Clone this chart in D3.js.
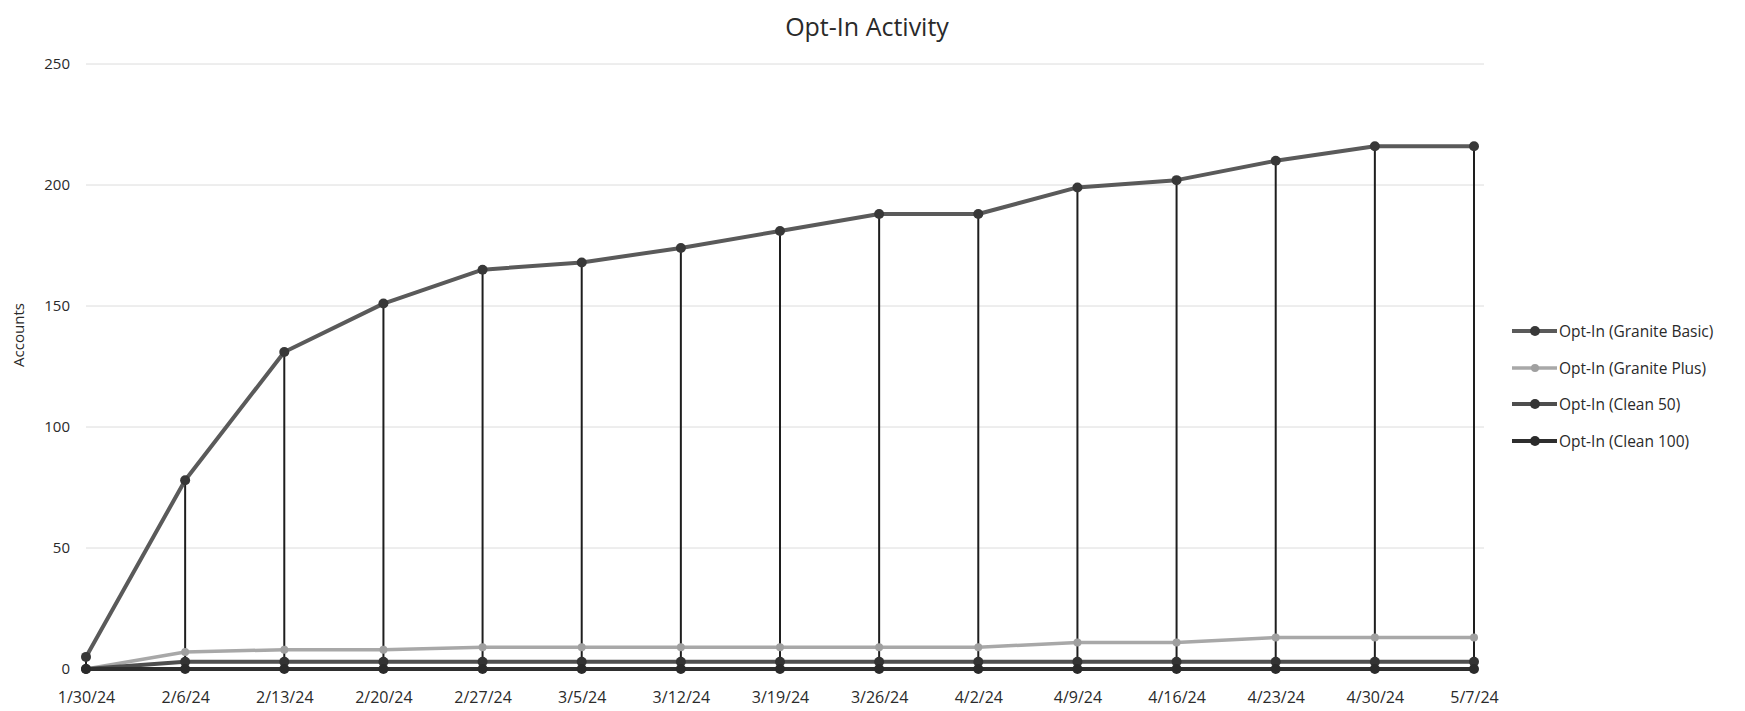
<!DOCTYPE html>
<html>
<head>
<meta charset="utf-8">
<script src="https://cdn.jsdelivr.net/npm/d3@7"></script>
<style>
  html, body { margin: 0; padding: 0; background: #fff; }
  svg { display: block; }
  text { font-family: "Open Sans", sans-serif; }
</style>
</head>
<body>
<svg id="chart" width="1745" height="711"></svg>
<script>
// ---- Data ----
const categories = ["1/30/24","2/6/24","2/13/24","2/20/24","2/27/24","3/5/24","3/12/24","3/19/24","3/26/24","4/2/24","4/9/24","4/16/24","4/23/24","4/30/24","5/7/24"];
const graniteBasic = [5, 78, 131, 151, 165, 168, 174, 181, 188, 188, 199, 202, 210, 216, 216];
const granitePlus  = [0, 7, 8, 8, 9, 9, 9, 9, 9, 9, 11, 11, 13, 13, 13];
const clean50      = [0, 3, 3, 3, 3, 3, 3, 3, 3, 3, 3, 3, 3, 3, 3];
const clean100     = [0, 0, 0, 0, 0, 0, 0, 0, 0, 0, 0, 0, 0, 0, 0];
const yTicks = [0, 50, 100, 150, 200, 250];
const seriesNames = ["Opt-In (Granite Basic)", "Opt-In (Granite Plus)", "Opt-In (Clean 50)", "Opt-In (Clean 100)"];

const series = [
  { name: seriesNames[0], values: graniteBasic, line: "#5a5a5a", marker: "#383838", width: 4, r: 5 },
  { name: seriesNames[1], values: granitePlus,  line: "#a8a8a8", marker: "#a0a0a0", width: 3.5, r: 4 },
  { name: seriesNames[2], values: clean50,      line: "#4e4e4e", marker: "#333333", width: 4, r: 5 },
  { name: seriesNames[3], values: clean100,     line: "#2e2e2e", marker: "#2a2a2a", width: 4, r: 5 }
];

const svg = d3.select("#chart");

const x = d3.scalePoint().domain(categories).range([86, 1474]);
const y = d3.scaleLinear().domain([0, 250]).range([669, 64]);

// Title
svg.append("text")
  .attr("x", 867).attr("y", 36)
  .attr("text-anchor", "middle")
  .attr("font-size", 25)
  .attr("fill", "#2a2a2a")
  .text("Opt-In Activity");

// Gridlines
svg.append("g").selectAll("line")
  .data(yTicks.filter(d => d > 0))
  .join("line")
  .attr("x1", 86).attr("x2", 1484)
  .attr("y1", d => y(d)).attr("y2", d => y(d))
  .attr("stroke", "#dcdcdc").attr("stroke-width", 1);

// Y axis
const yAxis = svg.append("g")
  .attr("transform", "translate(78,0)")
  .call(d3.axisLeft(y).tickValues(yTicks).tickSize(0).tickPadding(8));
yAxis.select(".domain").remove();
yAxis.selectAll("text").attr("font-size", 15).attr("fill", "#2a2a2a").attr("font-family", "'Open Sans', sans-serif");

// X axis
const xAxis = svg.append("g")
  .attr("transform", "translate(0,686)")
  .call(d3.axisBottom(x).tickSize(0).tickPadding(6));
xAxis.select(".domain").remove();
xAxis.selectAll("text").attr("font-size", 16).attr("fill", "#2a2a2a").attr("font-family", "'Open Sans', sans-serif");

// Y axis title
svg.append("text")
  .attr("transform", "translate(24,335) rotate(-90)")
  .attr("text-anchor", "middle")
  .attr("font-size", 15)
  .attr("fill", "#2a2a2a")
  .text("Accounts");

// Drop lines from top series
svg.append("g").selectAll("line")
  .data(categories.map((c, i) => ({ c, v: graniteBasic[i] })))
  .join("line")
  .attr("x1", d => x(d.c)).attr("x2", d => x(d.c))
  .attr("y1", d => y(d.v)).attr("y2", y(0))
  .attr("stroke", "#1e1e1e").attr("stroke-width", 2);

// Series
const lineGen = d3.line().x(d => x(d.c)).y(d => y(d.v));
series.forEach(s => {
  const pts = categories.map((c, i) => ({ c, v: s.values[i] }));
  const g = svg.append("g");
  g.append("path").datum(pts)
    .attr("d", lineGen)
    .attr("fill", "none")
    .attr("stroke", s.line)
    .attr("stroke-width", s.width)
    .attr("stroke-linejoin", "round");
  g.selectAll("circle").data(pts).join("circle")
    .attr("cx", d => x(d.c)).attr("cy", d => y(d.v))
    .attr("r", s.r)
    .attr("fill", s.marker);
});

// Legend
const legend = svg.append("g");
const legY = [331, 368, 404, 441];
series.forEach((s, i) => {
  const g = legend.append("g").attr("transform", `translate(0,${legY[i]})`);
  g.append("line").attr("x1", 1512).attr("x2", 1557).attr("y1", 0).attr("y2", 0)
    .attr("stroke", s.line).attr("stroke-width", s.width);
  g.append("circle").attr("cx", 1535).attr("cy", 0).attr("r", s.r).attr("fill", s.marker);
  g.append("text").attr("x", 1559).attr("y", 5.5)
    .attr("font-size", 15.5).attr("fill", "#2a2a2a")
    .text(s.name);
});
</script>
</body>
</html>
